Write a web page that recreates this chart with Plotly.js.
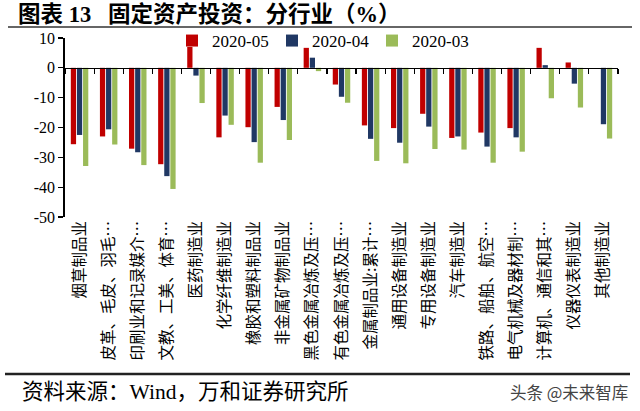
<!DOCTYPE html>
<html>
<head>
<meta charset="utf-8">
<script src="https://cdn.plot.ly/plotly-3.0.1.min.js"></script>
<style>html,body{margin:0;padding:0;background:#fff;}#chart{width:640px;height:411px;}</style>
</head>
<body>
<div id="chart"></div>
<script>
var categories = ["烟草制品业", "皮革、毛皮、羽毛…", "印刷业和记录媒介…", "文教、工美、体育…", "医药制造业", "化学纤维制造业", "橡胶和塑料制品业", "非金属矿物制品业", "黑色金属冶炼及压…", "有色金属冶炼及压…", "金属制品业:累计…", "通用设备制造业", "专用设备制造业", "汽车制造业", "铁路、船舶、航空…", "电气机械及器材制…", "计算机、通信和其…", "仪器仪表制造业", "其他制造业"];
var seriesNames = ["2020-05", "2020-04", "2020-03"];
var may2020 = [-25.6, -23.0, -27.1, -32.3, 7.0, -23.3, -19.9, -13.1, 6.7, -5.6, -19.3, -20.2, -15.4, -23.5, -21.7, -20.2, 6.7, 1.8, null];
var apr2020 = [-22.5, -20.6, -28.3, -36.3, -2.6, -16.0, -24.9, -17.5, 3.4, -9.7, -23.8, -25.1, -19.7, -23.0, -26.4, -23.3, 0.9, -5.3, -18.9];
var mar2020 = [-32.9, -25.7, -32.6, -40.6, -11.8, -19.1, -31.8, -24.2, -1.1, -11.7, -31.2, -32.0, -27.2, -27.4, -31.8, -28.1, -10.2, -13.3, -23.7];
var yTickVals = [10, 0, -10, -20, -30, -40, -50];
var yTickText = ["10", "0", "-10", "-20", "-30", "-40", "-50"];
var titleText = "图表 13\u00a0\u00a0\u00a0固定资产投资：分行业（%）";
var sourceText = "资料来源：Wind，万和证券研究所";
var watermarkText = "头条 @未来智库";

var colors = ["#C00000", "#203864", "#9BBB59"];
var FONT = "Liberation Serif, Noto Sans CJK SC, serif";
var CJK = "Noto Sans CJK SC, sans-serif";

// plot area in pixels
var L = 65, R = 618, T = 38, B = 217;
function px(x) { return (x - L) / (R - L); }
function py(y) { return (B - y) / (B - T); }

var vals = [may2020, apr2020, mar2020];
var traces = vals.map(function (v, i) {
  return {
    type: "bar", x: categories, y: v, name: seriesNames[i],
    marker: {color: colors[i], line: {width: 0}},
    xaxis: "x", yaxis: "y", hoverinfo: "x+y+name"
  };
});
traces.push({
  type: "scatter", mode: "markers", x: categories,
  y: categories.map(function () { return null; }),
  xaxis: "x2", yaxis: "y", showlegend: false, hoverinfo: "skip"
});

var yMin = -50, yMax = 10;

var layout = {
  width: 640, height: 411,
  margin: {l: L, r: 640 - R, t: T, b: 411 - B, pad: 0},
  paper_bgcolor: "#ffffff", plot_bgcolor: "rgba(0,0,0,0)",
  font: {family: FONT, color: "#000"},
  barmode: "group", bargap: 0.37, bargroupgap: 0.14,
  title: {
    text: "<b>" + titleText + "</b>",
    font: {family: FONT, size: 22.5, color: "#000"},
    x: 18 / 640, xref: "container", xanchor: "left",
    y: 1 - 14 / 411, yref: "container", yanchor: "middle"
  },
  showlegend: true,
  legend: {
    orientation: "h", x: px(172), xanchor: "left", y: py(41), yanchor: "middle",
    bgcolor: "rgba(0,0,0,0)", font: {family: FONT, size: 17, color: "#000"},
    entrywidth: 55, entrywidthmode: "pixels", traceorder: "normal", itemwidth: 30
  },
  xaxis: {
    type: "category", range: [-0.5, categories.length - 0.5],
    showline: false, showgrid: false, zeroline: false, ticks: "",
    tickangle: -90, tickfont: {family: CJK, size: 15.5, color: "#000"},
    fixedrange: true
  },
  xaxis2: {
    type: "category", overlaying: "x", anchor: "free",
    position: (0 - yMin) / (yMax - yMin),
    range: [-0.5, categories.length - 0.5],
    showline: true, linecolor: "#000", linewidth: 1.5,
    ticks: "outside", ticklen: 5, tickwidth: 1.2, tickcolor: "#000",
    tickson: "boundaries", showticklabels: false, showgrid: false, zeroline: false
  },
  yaxis: {
    range: [yMin, yMax], tickmode: "array", tickvals: yTickVals, ticktext: yTickText,
    showline: true, linecolor: "#000", linewidth: 1.8,
    ticks: "outside", ticklen: 5, tickwidth: 1.2, tickcolor: "#000",
    showgrid: false, zeroline: false,
    tickfont: {family: FONT, size: 16, color: "#000"}
  },
  shapes: [
    {type: "line", xref: "paper", yref: "paper", x0: px(8), x1: px(632), y0: py(27), y1: py(27),
     line: {color: "#333", width: 1.5}},
    {type: "line", xref: "paper", yref: "paper", x0: px(5), x1: px(630), y0: py(374), y1: py(374),
     line: {color: "#222", width: 2.5}}
  ],
  annotations: [
    {text: sourceText, xref: "paper", yref: "paper", x: px(20), y: py(392),
     xanchor: "left", yanchor: "middle", showarrow: false,
     font: {family: FONT, size: 21.5, color: "#000"}},
    {text: watermarkText, xref: "paper", yref: "paper", x: px(630), y: py(392),
     xanchor: "right", yanchor: "middle", showarrow: false,
     font: {family: CJK, size: 16.5, color: "#444"}}
  ]
};

Plotly.newPlot("chart", traces, layout, {displayModeBar: false, staticPlot: true});
</script>
</body>
</html>
